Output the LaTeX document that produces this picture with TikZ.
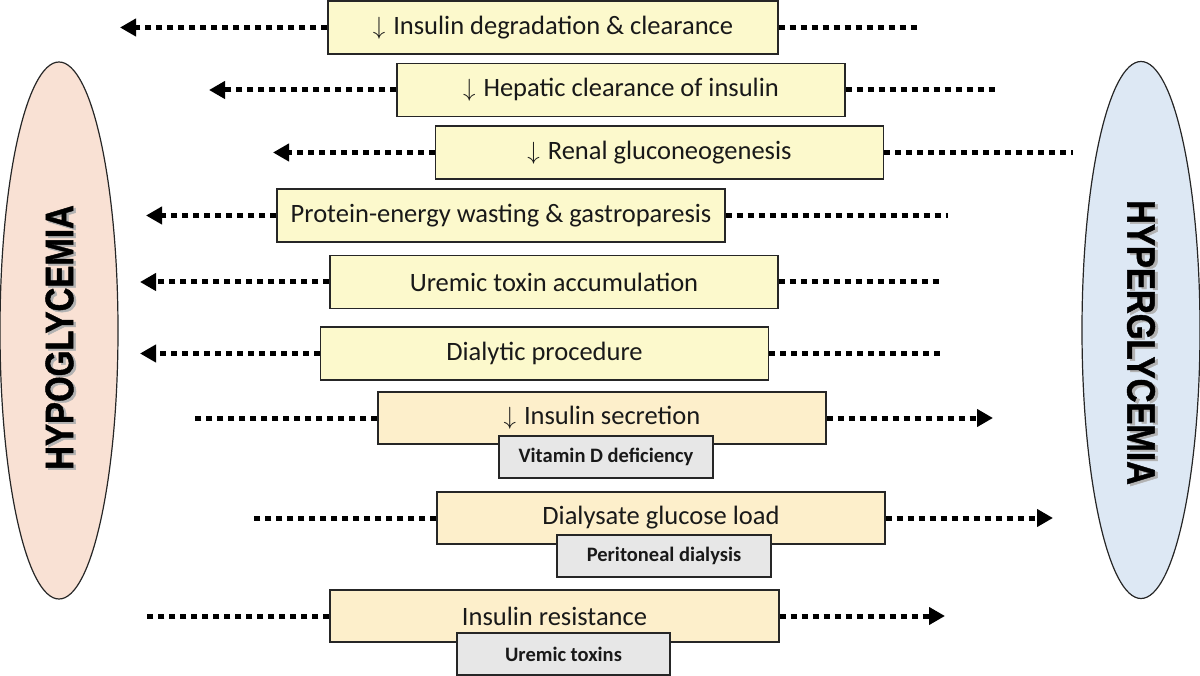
\documentclass[tikz,border=0pt]{standalone}
\usepackage{fontspec}
\setmainfont{Carlito}
\newfontfamily\headfont[FakeBold=1.2]{Liberation Sans Bold}
\usetikzlibrary{arrows.meta,shapes.geometric}
\definecolor{boxyellow}{HTML}{FCF9CC}
\definecolor{boxpeach}{HTML}{FDEFCB}
\definecolor{boxgray}{HTML}{E7E7E7}
\definecolor{hypofill}{HTML}{F9E1D4}
\definecolor{hyperfill}{HTML}{DDE8F4}
\newcommand{\dnarr}{$\downarrow$\hspace{0.3em}}
\begin{document}
\begin{tikzpicture}[x=1pt,y=-1pt,
 box/.style={draw=black!85, line width=1.2pt, minimum width=448pt, minimum height=53pt, inner sep=0pt, font=\fontsize{26.5}{30}\selectfont, text=black!90},
 ybox/.style={box, fill=boxyellow},
 pbox/.style={box, fill=boxpeach},
 gbox/.style={draw=black!85, line width=1.2pt, fill=boxgray, minimum width=214pt, minimum height=42pt, inner sep=0pt, font=\fontsize{20.5}{24}\selectfont\bfseries, text=black!90},
 dotline/.style={line width=5pt, dash pattern=on 6pt off 5pt},
 tipped/.style={-{Triangle[length=16pt 0 0, width=17pt 0 0]}},
 oval/.style={ellipse, draw=black!85, line width=1.2pt, minimum width=118pt, minimum height=537pt, inner sep=0pt},
 headtext/.style={font=\headfont\fontsize{33}{36}\selectfont, inner sep=0pt},
 ]
\useasboundingbox (0,0) rectangle (1200,676);

% ellipses
\node[oval, fill=hypofill] (hypo) at (59,330.5) {};
\node[oval, fill=hyperfill] (hyper) at (1141,330) {};
\node[headtext, rotate=90, text=black!30] (hyposh) at (62,339.5) {\scalebox{1}[1.2]{HYPOGLYCEMIA}};
\node[headtext, rotate=90] (hypotext) at (59.5,337.5) {\scalebox{1}[1.2]{HYPOGLYCEMIA}};
\node[headtext, rotate=-90, text=black!30] (hypersh) at (1144,344.5) {\scalebox{1}[1.2]{HYPERGLYCEMIA}};
\node[headtext, rotate=-90] (hypertext) at (1141,342.5) {\scalebox{1}[1.2]{HYPERGLYCEMIA}};

% main boxes
\node[ybox, minimum width=450pt] (b1) at (553,27.5) {\dnarr Insulin degradation \& clearance};
\node[ybox] (b2) at (621,90) {\dnarr Hepatic clearance of insulin};
\node[ybox] (b3) at (659.5,152.5) {\dnarr Renal gluconeogenesis};
\node[ybox] (b4) at (501,215.5) {Protein-energy wasting \& gastroparesis};
\node[ybox] (b5) at (554,282) {Uremic toxin accumulation};
\node[ybox] (b6) at (544.5,353.5) {Dialytic procedure};
\node[pbox, minimum height=52pt] (b7) at (602,418) {\dnarr Insulin secretion};
\node[pbox, minimum height=52pt] (b8) at (661,518) {Dialysate glucose load};
\node[pbox, minimum height=52pt, minimum width=449pt] (b9) at (554.5,616) {Insulin resistance};

% small boxes
\node[gbox] (s7) at (606,457) {Vitamin D deficiency};
\node[gbox] (s8) at (664,556) {Peritoneal dialysis};
\node[gbox, minimum width=213pt] (s9) at (563.5,654) {Uremic toxins};

% free ends
\coordinate (l1) at (120,27.5);   \coordinate (r1) at (920,27.5);
\coordinate (l2) at (209,90);     \coordinate (r2) at (998,90);
\coordinate (l3) at (273,152.5);  \coordinate (r3) at (1073,152.5);
\coordinate (l4) at (146,215.5);  \coordinate (r4) at (948,215.5);
\coordinate (l5) at (140,282);    \coordinate (r5) at (940,282);
\coordinate (l6) at (140,353.5);  \coordinate (r6) at (940,353.5);
\coordinate (l7) at (193,418);    \coordinate (r7) at (993,418);
\coordinate (l8) at (253,518);    \coordinate (r8) at (1053,518);
\coordinate (l9) at (146,616);    \coordinate (r9) at (945,616);

% connectors
\foreach \i in {1,...,6}{
  \draw[dotline, tipped] (b\i.west) -- (l\i);
  \draw[dotline] (b\i.east) -- (r\i);
}
\foreach \i in {7,8,9}{
  \draw[dotline] (b\i.west) -- (l\i);
  \draw[dotline, tipped] (b\i.east) -- (r\i);
}
\end{tikzpicture}
\end{document}
